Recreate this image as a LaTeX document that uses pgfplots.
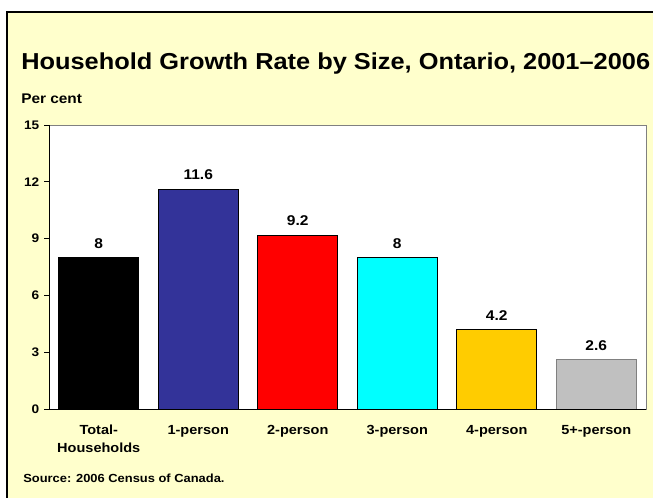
\documentclass[border=0pt]{standalone}
\usepackage{pgfplots}
\pgfplotsset{compat=1.18}
\usepackage{fontspec}
\setmainfont{Liberation Sans}[FakeStretch=1.1]
\definecolor{bg}{HTML}{FFFFCC}
\definecolor{c1}{HTML}{333399}
\definecolor{c3}{HTML}{00FFFF}
\definecolor{c4}{HTML}{FFCC00}
\definecolor{c5}{HTML}{C0C0C0}
\begin{document}
\begin{tikzpicture}[x=0.75pt,y=0.75pt]
\useasboundingbox (0,0) rectangle (653,498);
\clip (0,0) rectangle (653,498);
\fill[white] (0,0) rectangle (653,498);
\fill[bg] (7,-10) rectangle (670,486);
\draw[line width=1.5pt] (670,486) -- (7,486) -- (7,-10);
\node[anchor=base west, inner sep=0, font=\bfseries\fontsize{17.3}{20}\selectfont] at (21,428) {Household Growth Rate by Size, Ontario, 2001–2006};
\node[anchor=base west, inner sep=0, font=\bfseries\fontsize{10.5}{12}\selectfont] at (21,394) {Per cent};
\node[anchor=base west, inner sep=0, font=\bfseries\fontsize{8.8}{10}\selectfont] at (23,15.5) {Source: 2006 Census of Canada.};
\begin{axis}[
  at={(36.75pt,66.75pt)}, anchor=south west,
  scale only axis, width=447.75pt, height=213pt,
  axis background/.style={fill=white},
  axis line style={draw=gray, line width=0.4pt},
  ybar, bar width=60pt,
  xmin=-0.5, xmax=5.5, ymin=0, ymax=15,
  xtick={0,...,5},
  xticklabels={{Total-\\Households},1-person,2-person,3-person,4-person,5+-person},
  x tick style={draw=none},
  xticklabel style={align=center, font=\bfseries\fontsize{9.9}{13}\selectfont, yshift=-5pt},
  ytick={0,3,6,9,12,15},
  y tick style={black, line width=0.5pt},
  tick align=outside, major tick length=3.75pt,
  ytick pos=left,
  yticklabel style={font=\bfseries\fontsize{9.3}{10}\selectfont},
  /pgf/number format/assume math mode=true,
  nodes near coords,
  every node near coord/.append style={font=\bfseries\fontsize{10.6}{12}\selectfont, yshift=3.5pt, black},
  after end axis/.code={\draw[black, line width=0.6pt] (rel axis cs:0,1) -- (rel axis cs:0,0) -- (rel axis cs:1,0);},
]
\addplot[bar shift=0pt, fill=black, draw=black] coordinates {(0,8)};
\addplot[bar shift=0pt, fill=c1, draw=black] coordinates {(1,11.6)};
\addplot[bar shift=0pt, fill=red, draw=black] coordinates {(2,9.2)};
\addplot[bar shift=0pt, fill=c3, draw=black] coordinates {(3,8)};
\addplot[bar shift=0pt, fill=c4, draw=black] coordinates {(4,4.2)};
\addplot[bar shift=0pt, fill=c5, draw=gray] coordinates {(5,2.6)};
\end{axis}
\end{tikzpicture}
\end{document}
